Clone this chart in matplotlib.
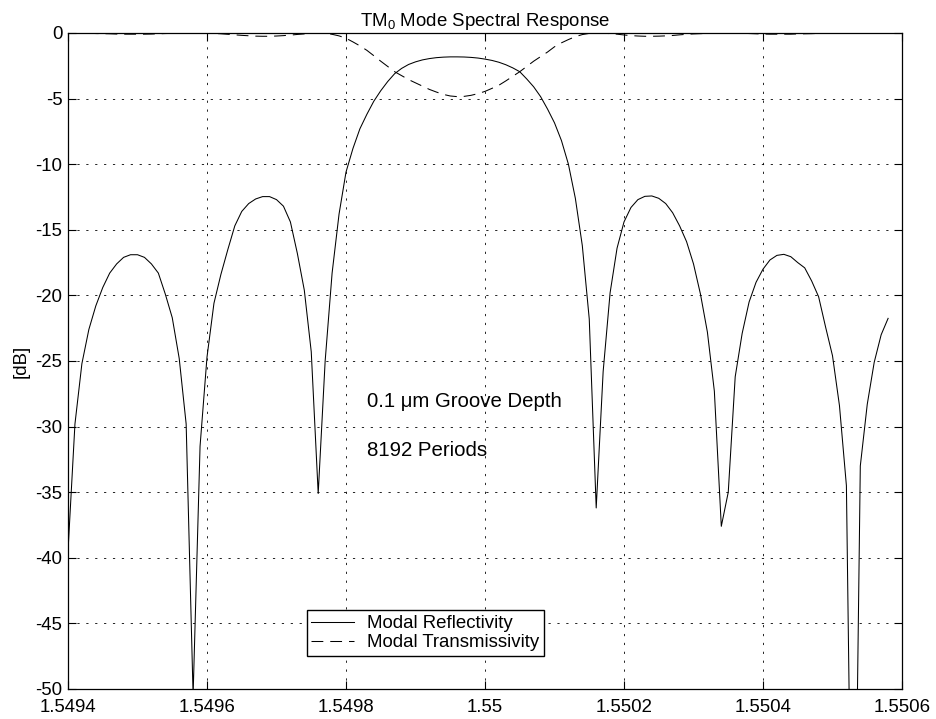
import matplotlib
matplotlib.use("Agg")
import matplotlib.pyplot as plt
import numpy as np

plt.rcParams['font.family'] = ['Liberation Sans', 'DejaVu Sans']
plt.rcParams['mathtext.fontset'] = 'custom'
plt.rcParams['mathtext.rm'] = 'Liberation Sans'
plt.rcParams['mathtext.it'] = 'Liberation Sans'
plt.rcParams['lines.scale_dashes'] = False

# wavelength grid [um], 1e-5 steps
wl_start, wl_stop, n_samples = 1.5494, 1.55058, 119
wavelength = np.linspace(wl_start, wl_stop, n_samples)

# modal reflectivity [dB]
reflectivity = [
    -39.5, -29.8, -25.2, -22.6, -20.8, -19.4, -18.3, -17.6, -17.1, -16.9,
    -16.9, -17.1, -17.6, -18.3, -19.9, -21.7, -24.8, -29.8, -50.5, -31.5,
    -24.7, -20.6, -18.4, -16.5, -14.7, -13.6, -13.0, -12.65, -12.47, -12.47,
    -12.7, -13.2, -14.4, -16.8, -19.6, -24.3, -35.1, -25.0, -18.3, -13.8,
    -10.6, -8.8, -7.3, -6.2, -5.2, -4.4, -3.7, -3.1, -2.7, -2.4,
    -2.2, -2.05, -1.95, -1.88, -1.84, -1.82, -1.82, -1.83, -1.86, -1.91,
    -1.99, -2.09, -2.23, -2.42, -2.66, -2.95, -3.5, -4.1, -4.85, -5.8,
    -6.85, -8.2, -10.0, -12.6, -16.2, -21.8, -36.2, -25.8, -19.8, -16.4,
    -14.4, -13.3, -12.7, -12.45, -12.42, -12.6, -13.0, -13.7, -14.7, -15.9,
    -17.6, -19.9, -22.8, -27.3, -37.6, -35.0, -26.2, -22.9, -20.5, -19.0,
    -18.0, -17.3, -16.95, -16.87, -17.05, -17.5, -17.9, -18.9, -20.1, -22.4,
    -24.6, -28.4, -34.5, -75.0, -33.0, -28.3, -25.1, -23.0, -21.75,
]

# modal transmissivity [dB]
transmissivity = [
    0.0, 0.0, -0.01, -0.02, -0.04, -0.05, -0.06, -0.08, -0.09, -0.09,
    -0.09, -0.09, -0.08, -0.06, -0.04, -0.03, -0.01, 0.0, 0.0, 0.0,
    -0.02, -0.03, -0.06, -0.1, -0.14, -0.18, -0.21, -0.24, -0.25, -0.25,
    -0.23, -0.2, -0.16, -0.11, -0.07, -0.03, -0.01, -0.03, -0.1, -0.22,
    -0.4, -0.68, -0.98, -1.32, -1.73, -2.15, -2.55, -2.95, -3.25, -3.55,
    -3.8, -4.05, -4.3, -4.5, -4.68, -4.8, -4.85, -4.83, -4.75, -4.62,
    -4.45, -4.22, -3.98, -3.65, -3.3, -2.95, -2.55, -2.15, -1.8, -1.45,
    -1.05, -0.75, -0.5, -0.28, -0.12, -0.03, -0.01, -0.01, -0.05, -0.09,
    -0.15, -0.2, -0.23, -0.25, -0.25, -0.24, -0.22, -0.19, -0.14, -0.1,
    -0.07, -0.05, -0.03, -0.01, 0.0, 0.0, -0.01, -0.02, -0.04, -0.06,
    -0.08, -0.09, -0.09, -0.09, -0.09, -0.07, -0.06, -0.05, -0.03, -0.02,
    -0.01, -0.01, 0.0, 0.0, 0.0, -0.01, -0.01, -0.02, -0.03,
]

xticks = [1.5494, 1.5496, 1.5498, 1.55, 1.5502, 1.5504, 1.5506]
xticklabels = ['1.5494', '1.5496', '1.5498', '1.55', '1.5502', '1.5504', '1.5506']
yticks = [0, -5, -10, -15, -20, -25, -30, -35, -40, -45, -50]

fs = 13.4

fig = plt.figure(figsize=(9.36, 7.19), dpi=100)
ax = fig.add_axes([0.07265, 0.041725, 0.89103, 0.91238])

ax.plot(wavelength, reflectivity, '-', color='black', lw=0.75,
        label='Modal Reflectivity')
ax.plot(wavelength, transmissivity, color='black', lw=0.75,
        dashes=(8.5, 5.0), label='Modal Transmissivity')

ax.set_xlim(1.5494, 1.5506)
ax.set_ylim(-50, 0)
ax.set_xticks(xticks)
ax.set_xticklabels(xticklabels)
ax.set_yticks(yticks)
ax.set_yticklabels([str(v) for v in yticks])

ax.grid(True, color='black', lw=0.6, dashes=(1.6, 4.8))
ax.tick_params(direction='in', length=6, width=0.8, labelsize=fs,
               top=True, right=True)
ax.tick_params(axis='x', pad=7)
ax.tick_params(axis='y', pad=4)
for s in ax.spines.values():
    s.set_linewidth(0.9)

ax.set_title(r'TM$_0$ Mode Spectral Response', fontsize=fs, pad=5)
ax.set_ylabel('[dB]', fontsize=fs, labelpad=4)

ax.text(1.54983, -28.1, '0.1 \u03bcm Groove Depth', fontsize=14.7, va='center')
ax.text(1.54983, -31.8, '8192 Periods', fontsize=14.7, va='center')

ax.legend(loc='lower left', bbox_to_anchor=(0.2862, 0.0508), borderaxespad=0,
          fontsize=fs, frameon=True, fancybox=False, edgecolor='black',
          framealpha=1, handlelength=2.3, handletextpad=0.7,
          borderpad=0.25, labelspacing=0.1)

fig.savefig('out.png', dpi=100)
